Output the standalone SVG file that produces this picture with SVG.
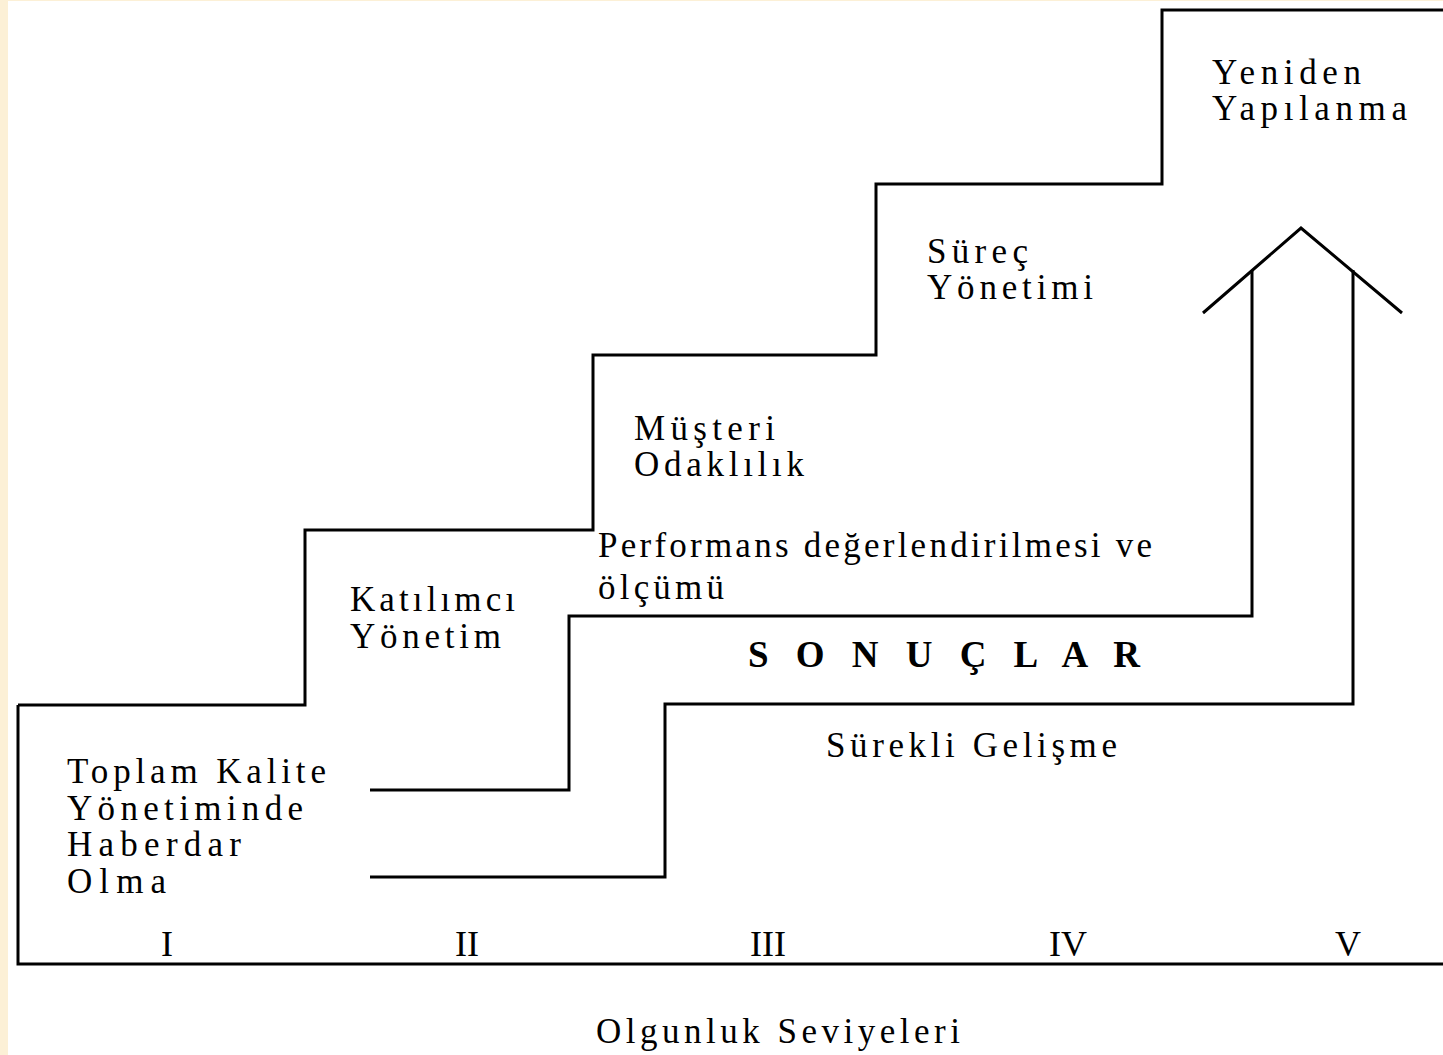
<svg xmlns="http://www.w3.org/2000/svg" width="1443" height="1055" viewBox="0 0 1443 1055">
<style>
.ln{fill:none;stroke:#000;stroke-width:3;stroke-linejoin:miter;stroke-linecap:butt}
.t{font-family:"Liberation Serif","Times New Roman",serif;font-size:35px;fill:#000}
.b{font-weight:bold;font-size:37px}
.m{text-anchor:middle;font-size:36px}
</style>
<rect x="0" y="0" width="1443" height="1055" fill="#FCF0D6"/>
<rect x="8" y="1" width="1435" height="1054" fill="#FFFFFF"/>
<g id="connectors">
<path class="ln" d="M18,705 V964 H1443"/>
<path class="ln" d="M18,705 H305 V530 H593 V355 H876 V184 H1162 V10 H1443"/>
<path class="ln" d="M370,790 H569 V616 H1252 V270"/>
<path class="ln" d="M370,877 H665 V704 H1353 V270"/>
<path class="ln" d="M1203,313 L1301,228 L1402,313"/>
</g>
<g id="level1">
<text class="t" x="67" y="783" textLength="259" lengthAdjust="spacing">Toplam Kalite</text>
<text class="t" x="67" y="820" textLength="236" lengthAdjust="spacing">Yönetiminde</text>
<text class="t" x="67" y="856" textLength="174" lengthAdjust="spacing">Haberdar</text>
<text class="t" x="67" y="893" textLength="99" lengthAdjust="spacing">Olma</text>
</g>
<g id="level2">
<text class="t" x="350" y="611" textLength="165" lengthAdjust="spacing">Katılımcı</text>
<text class="t" x="350" y="648" textLength="151" lengthAdjust="spacing">Yönetim</text>
</g>
<g id="level3">
<text class="t" x="634" y="440" textLength="141" lengthAdjust="spacing">Müşteri</text>
<text class="t" x="634" y="476" textLength="170" lengthAdjust="spacing">Odaklılık</text>
</g>
<g id="level4">
<text class="t" x="927" y="263" textLength="101" lengthAdjust="spacing">Süreç</text>
<text class="t" x="927" y="299" textLength="166" lengthAdjust="spacing">Yönetimi</text>
</g>
<g id="level5">
<text class="t" x="1212" y="84" textLength="149" lengthAdjust="spacing">Yeniden</text>
<text class="t" x="1212" y="120" textLength="195" lengthAdjust="spacing">Yapılanma</text>
</g>
<g id="performans">
<text class="t" x="598" y="557" textLength="554" lengthAdjust="spacing">Performans değerlendirilmesi ve</text>
<text class="t" x="598" y="599" textLength="126" lengthAdjust="spacing">ölçümü</text>
</g>
<g id="sonuclar">
<text class="t b" x="748" y="667" textLength="392" lengthAdjust="spacing">S O N U Ç L A R</text>
</g>
<g id="surekli">
<text class="t" x="826" y="757" textLength="291" lengthAdjust="spacing">Sürekli Gelişme</text>
</g>
<g id="axis-labels">
<text class="t m" x="167" y="956">I</text>
<text class="t m" x="467" y="956">II</text>
<text class="t m" x="768" y="956">III</text>
<text class="t m" x="1068" y="956">IV</text>
<text class="t m" x="1348" y="956">V</text>
</g>
<g id="axis-title">
<text class="t" x="596" y="1043" textLength="364" lengthAdjust="spacing">Olgunluk Seviyeleri</text>
</g>
</svg>
